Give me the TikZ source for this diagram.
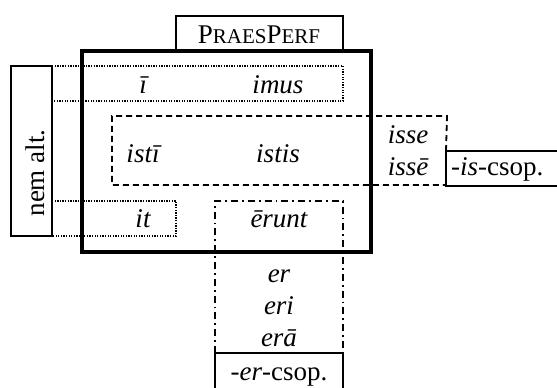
\documentclass[tikz,border=0pt]{standalone}
\usepackage{fontspec}
\setmainfont{Liberation Serif}[ItalicFont={Liberation Serif Italic},BoldFont={Liberation Serif Bold}]
\newfontfamily\itfont{Liberation Serif Italic}
\begin{document}
\begin{tikzpicture}[x=1pt,y=-1pt,
  txt/.style={inner sep=0pt,anchor=base,font=\fontsize{27}{32}\selectfont},
  thickbox/.style={line width=3.6pt},
  thinbox/.style={line width=2pt},
  dotbox/.style={line width=1.8pt,dash pattern=on 1.3pt off 1.3pt},
  dashbox/.style={line width=1.8pt,dash pattern=on 6pt off 4pt},
  dashdotbox/.style={line width=1.8pt,dash pattern=on 7pt off 4pt on 1.8pt off 4pt}]
\useasboundingbox (0,0) rectangle (557,388);
\clip (0,0) rectangle (557,388);
% dotted rows
\draw[dotbox] (52,66) -- (343,66) -- (343,101) -- (52,101);
\draw[dotbox] (52,201) -- (176,201) -- (176,236) -- (52,236);
% dashed group
\draw[dashbox] (446,151) -- (447,116) -- (112,116) -- (112,185) -- (446,185);
% dash-dot group
\draw[dashdotbox] (215,353) -- (215,201) -- (343,201) -- (343,353);
% main box
\draw[thickbox] (82,51) rectangle (371,252);
% label boxes
\draw[thinbox] (176,51) -- (176,16) -- (343,16) -- (343,51);
\draw[thinbox] (11,66) rectangle (52,236);
\draw[thinbox] (565,151) -- (446,151) -- (446,186) -- (565,186);
\draw[thinbox] (215,395) -- (215,353) -- (343,353) -- (343,395);
% texts
\node[txt] (praes) at (259,43) {P{\fontsize{21}{24}\selectfont RAES}P{\fontsize{21}{24}\selectfont ERF}};
\node[txt,anchor=center,rotate=90] (nem) at (35,173) {nem alt.};
\node[txt] (i1) at (143,93) {\itfont ī};
\node[txt] (imus) at (278,93) {\itfont imus};
\node[txt] (isti) at (143,162) {\itfont istī};
\node[txt] (istis) at (278,162) {\itfont istis};
\node[txt] (isse) at (408,143) {\itfont isse};
\node[txt] (isse2) at (408,175) {\itfont issē};
\node[txt,anchor=base west] (iscsop) at (451,175) {-{\itfont is}-csop.};
\node[txt] (it) at (143,227) {\itfont it};
\node[txt] (erunt) at (279,227) {\itfont ērunt};
\node[txt] (er) at (279,282) {\itfont er};
\node[txt] (eri) at (279,314) {\itfont eri};
\node[txt] (era) at (279,346) {\itfont erā};
\node[txt] (ercsop) at (279,380) {-{\itfont er}-csop.};
\end{tikzpicture}
\end{document}
